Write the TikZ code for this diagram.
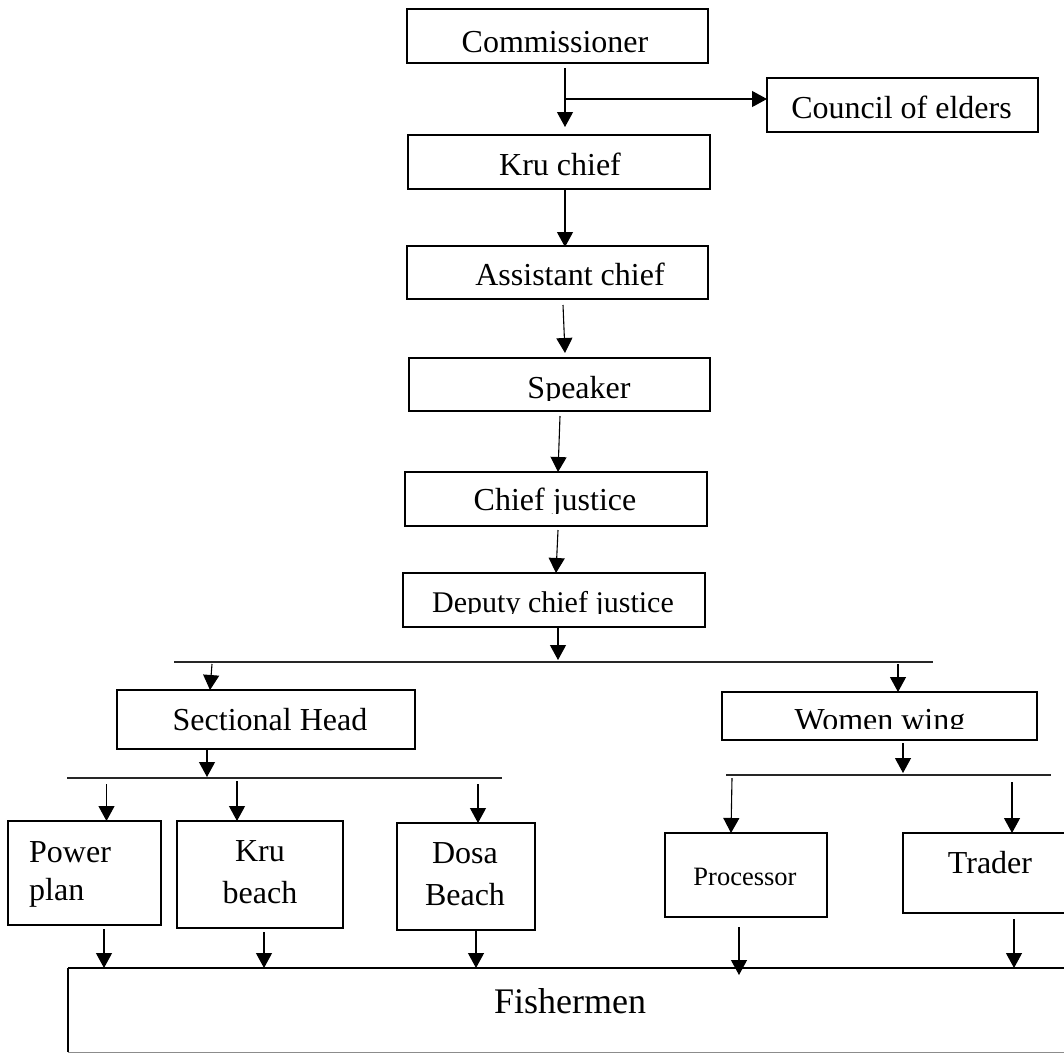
\documentclass[tikz,border=0pt]{standalone}
\usepackage{fontspec}
\setmainfont{Liberation Serif}
\usetikzlibrary{arrows.meta}
\begin{document}
\begin{tikzpicture}[x=1pt,y=-1pt,
  box/.style={draw, line width=2.6pt, rectangle, inner sep=0pt, outer sep=0pt},
  lbl/.style={inner sep=0pt, anchor=base, font=\fontsize{32}{38}\selectfont},
  arr/.style={line width=1.1pt, -{Triangle[length=15pt,width=16pt]}},
  bus/.style={line width=1.3pt, black!85}]
\useasboundingbox (0,0) rectangle (1064,1053);
\fill[white] (0,0) rectangle (1064,1053);

% boxes
\node[box, minimum width=301pt, minimum height=54pt] (comm) at (557.5,36) {};
\node[box, minimum width=271pt, minimum height=54pt] (council) at (902.5,105) {};
\node[box, minimum width=302pt, minimum height=54pt] (kru) at (559,162) {};
\node[box, minimum width=301pt, minimum height=53pt] (asst) at (557.5,272.5) {};
\node[box, minimum width=301pt, minimum height=53pt] (speaker) at (559.5,384.5) {};
\node[box, minimum width=302pt, minimum height=54pt] (chief) at (556,499) {};
\node[box, minimum width=302pt, minimum height=54pt] (deputy) at (554,600) {};
\node[box, minimum width=298pt, minimum height=59pt] (sect) at (266,719.5) {};
\node[box, minimum width=315pt, minimum height=48pt] (women) at (879.5,716) {};
\node[box, minimum width=153pt, minimum height=104pt] (power) at (84.5,873) {};
\node[box, minimum width=166pt, minimum height=107pt] (krub) at (260,874.5) {};
\node[box, minimum width=138pt, minimum height=107pt] (dosa) at (466,876.5) {};
\node[box, minimum width=162pt, minimum height=84pt] (proc) at (746,875) {};
\node[box, minimum width=172pt, minimum height=80pt] (trader) at (989,873) {};
\node[rectangle, inner sep=0pt, outer sep=0pt, minimum width=1007pt, minimum height=84pt] (fish) at (571.5,1010) {};
\draw[line width=2.8pt] (fish.north west) -- (fish.north east);
\draw[line width=1.8pt] (fish.north west) -- (fish.south west);
\draw[line width=1pt, black!45] (fish.south west) -- (fish.south east);

% labels
\node[lbl] (commT) at (555,52) {Commissioner};
\node[lbl] (councilT) at (901.5,118) {Council of elders};
\node[lbl] (kruT) at (560,175) {Kru chief};
\node[lbl] (asstT) at (570,285) {Assistant chief};
\begin{scope}
\clip (409,358) rectangle (710,400);
\node[lbl] (speakerT) at (579,398) {Speaker};
\end{scope}
\begin{scope}
\clip (405,472) rectangle (707,513);
\node[lbl] (chiefT) at (555,510) {Chief justice};
\end{scope}
\begin{scope}
\clip (403,573) rectangle (705,613);
\node[lbl, font=\fontsize{30}{36}\selectfont] (deputyT) at (553,612) {Deputy chief justice};
\end{scope}
\node[lbl] (sectT) at (270,730) {Sectional Head};
\begin{scope}
\clip (722,692) rectangle (1037,728);
\node[lbl] (womenT) at (880,730) {Women wing};
\end{scope}
\node[lbl, anchor=base west] (powerT1) at (29,862) {Power};
\node[lbl, anchor=base west] (powerT2) at (29,900) {plan};
\node[lbl] (krubT1) at (260,861) {Kru};
\node[lbl] (krubT2) at (260,903) {beach};
\node[lbl] (dosaT1) at (465,863) {Dosa};
\node[lbl] (dosaT2) at (465,905) {Beach};
\node[lbl, font=\fontsize{26.5}{32}\selectfont] (procT) at (745,885) {Processor};
\node[lbl] (traderT) at (990,873) {Trader};
\node[lbl, font=\fontsize{36}{43}\selectfont] (fishT) at (570,1013) {Fishermen};

% bus lines
\coordinate (bus1L) at (174,662);
\coordinate (bus1R) at (933,662);
\coordinate (bus2L) at (67,778);
\coordinate (bus2R) at (502,778);
\coordinate (bus3L) at (726,775);
\coordinate (bus3R) at (1051,775);
\draw[bus] (bus1L) -- (bus1R);
\draw[bus] (bus2L) -- (bus2R);
\draw[bus] (bus3L) -- (bus3R);

% connectors
\draw[arr] ([xshift=7.5pt,yshift=-5pt]comm.south) -- ([xshift=6pt,yshift=8pt]kru.north);
\draw[arr] ([xshift=7.5pt,yshift=-36pt]comm.south) -- ([yshift=6pt]council.west);
\draw[arr] ([xshift=6pt,yshift=-1pt]kru.south) -- ([xshift=7.5pt,yshift=-1pt]asst.north);
\draw[arr] ([xshift=5.5pt,yshift=-6pt]asst.south) -- ([xshift=5.5pt,yshift=5pt]speaker.north);
\draw[arr] ([xshift=0.5pt,yshift=-5pt]speaker.south) -- ([xshift=2pt]chief.north);
\draw[arr] ([xshift=2pt,yshift=-4pt]chief.south) -- ([xshift=2pt]deputy.north);
\draw[arr] ([xshift=4pt,yshift=-1pt]deputy.south) -- ([xshift=4pt,yshift=2pt]deputy.south |- bus1L);
\draw[arr] ([xshift=-54pt,yshift=-2pt]bus1L -| sect.north) -- ([xshift=-56pt]sect.north);
\draw[arr] ([xshift=18.5pt,yshift=-2pt]bus1R -| women.north) -- ([xshift=18.5pt]women.north);
\draw[arr] ([xshift=-59pt]sect.south) -- ([xshift=-59pt,yshift=1pt]bus2L -| sect.south);
\draw[arr] ([xshift=22pt,yshift=-6pt]bus2L -| power.north) -- ([xshift=22pt]power.north);
\draw[arr] ([xshift=-23pt,yshift=-3pt]bus2L -| krub.north) -- ([xshift=-23pt]krub.north);
\draw[arr] ([xshift=12pt,yshift=-6pt]bus2R -| dosa.north) -- ([xshift=12pt]dosa.north);
\draw[arr] ([xshift=23.5pt,yshift=-3pt]women.south) -- ([xshift=23.5pt,yshift=2pt]bus3L -| women.south);
\draw[arr] ([xshift=-14pt,yshift=-3pt]bus3L -| proc.north) -- ([xshift=-15pt]proc.north);
\draw[arr] ([xshift=23pt,yshift=-7pt]bus3R -| trader.north) -- ([xshift=23pt]trader.north);
\draw[arr] ([xshift=19.5pt,yshift=-4pt]power.south) -- ([xshift=19.5pt]power.south |- fish.north);
\draw[arr] ([xshift=4pt,yshift=-4pt]krub.south) -- ([xshift=4pt]krub.south |- fish.north);
\draw[arr] ([xshift=10pt,yshift=-1pt]dosa.south) -- ([xshift=10pt]dosa.south |- fish.north);
\draw[arr] ([xshift=-7pt,yshift=-10pt]proc.south) -- ([xshift=-7pt,yshift=-7pt]proc.south |- fish.north);
\draw[arr] ([xshift=25pt,yshift=-6pt]trader.south) -- ([xshift=25pt]trader.south |- fish.north);
\end{tikzpicture}
\end{document}
